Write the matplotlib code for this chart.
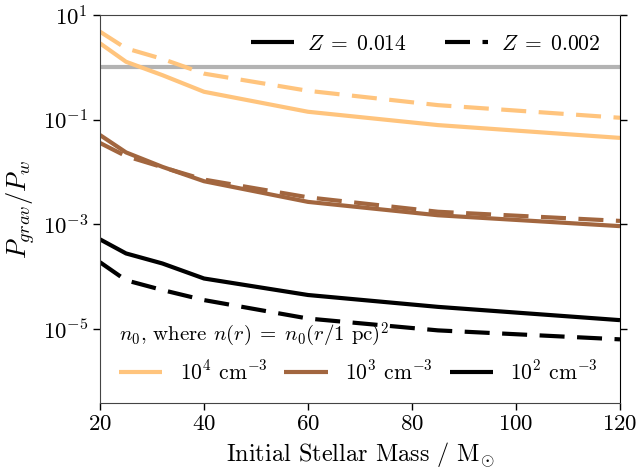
import matplotlib
matplotlib.use("Agg")
import matplotlib.pyplot as plt
from matplotlib.lines import Line2D
import numpy as np

plt.rcParams['font.family'] = 'serif'
plt.rcParams['font.serif'] = ['cmr10', 'DejaVu Serif']
plt.rcParams['mathtext.fontset'] = 'cm'
plt.rcParams['axes.formatter.use_mathtext'] = True
plt.rcParams['axes.unicode_minus'] = False

masses = [20, 25, 32, 40, 60, 85, 120]

n4_z014 = [2.88, 1.28, 0.71, 0.342, 0.142, 0.079, 0.045]
n4_z002 = [4.8, 2.31, 1.45, 0.76, 0.357, 0.19, 0.109]
n3_z014 = [0.051, 0.0238, 0.0126, 0.0067, 0.0027, 0.0015, 0.00093]
n3_z002 = [0.036, 0.0202, 0.0124, 0.0072, 0.0033, 0.00175, 0.00117]
n2_z014 = [5.2e-4, 2.8e-4, 1.8e-4, 9.3e-5, 4.5e-5, 2.67e-5, 1.49e-5]
n2_z002 = [1.9e-4, 8.6e-5, 5.6e-5, 3.6e-5, 1.6e-5, 9.5e-6, 6.4e-6]

density_labels = [r'$10^4$ cm$^{-3}$', r'$10^3$ cm$^{-3}$', r'$10^2$ cm$^{-3}$']
z_labels = [r'$Z\;=\;0.014$', r'$Z\;=\;0.002$']
colors = ['#FFC47D', '#A2663F', 'black']

fig = plt.figure(figsize=(6.39, 4.68), dpi=100)
ax = fig.add_axes([100/639, 1-403/468, 520/639, 388/468])

lw = 3.0
dash = (0, (6, 3))
series = [(n4_z014, n4_z002), (n3_z014, n3_z002), (n2_z014, n2_z002)]
for (s, d), c in zip(series, colors):
    ax.plot(masses, s, color=c, lw=lw, solid_capstyle='butt')
    ax.plot(masses, d, color=c, lw=lw, linestyle=dash, dash_capstyle='butt')

ax.axhline(1.0, color='#B3B3B3', lw=3, zorder=0)

ax.set_yscale('log')
ax.set_xlim(20, 120)
ax.set_ylim(3.9e-7, 10)
ax.set_yticks([1e1, 1e-1, 1e-3, 1e-5])
ax.yaxis.set_minor_locator(matplotlib.ticker.NullLocator())
ax.set_xticks([20, 40, 60, 80, 100, 120])
ax.tick_params(axis='both', labelsize=16.5, direction='out', length=5, width=1)
ax.tick_params(axis='y', right=True, which='major')
for sp in ['left', 'bottom', 'top']:
    ax.spines[sp].set_color('#444444')
ax.spines['right'].set_color('black')

ax.set_xlabel(r'Initial Stellar Mass / $\rm M_{\odot}$', fontsize=17.5)
ax.set_ylabel(r'$P_{grav}/P_w$', fontsize=19)

zh = [Line2D([], [], color='black', lw=lw, solid_capstyle='butt'),
      Line2D([], [], color='black', lw=lw, linestyle=dash, dash_capstyle='butt')]
leg1 = ax.legend(zh, z_labels, loc='upper right', ncol=2, frameon=False, fontsize=15.5,
                 handlelength=2.0, handletextpad=0.6, columnspacing=1.8,
                 bbox_to_anchor=(1.0, 1.0))
ax.add_artist(leg1)

dh = [Line2D([], [], color=c, lw=lw, solid_capstyle='butt') for c in colors]
leg2 = ax.legend(dh, density_labels, loc='lower left', ncol=3, frameon=False, fontsize=15.5,
                 title=r'$n_0$, where $n(r)\;=\;n_0(r/1$ pc$)^2$', title_fontsize=15,
                 handlelength=2.0, handletextpad=0.8, columnspacing=0.8, alignment='left')

fig.savefig('out.png', dpi=100)
